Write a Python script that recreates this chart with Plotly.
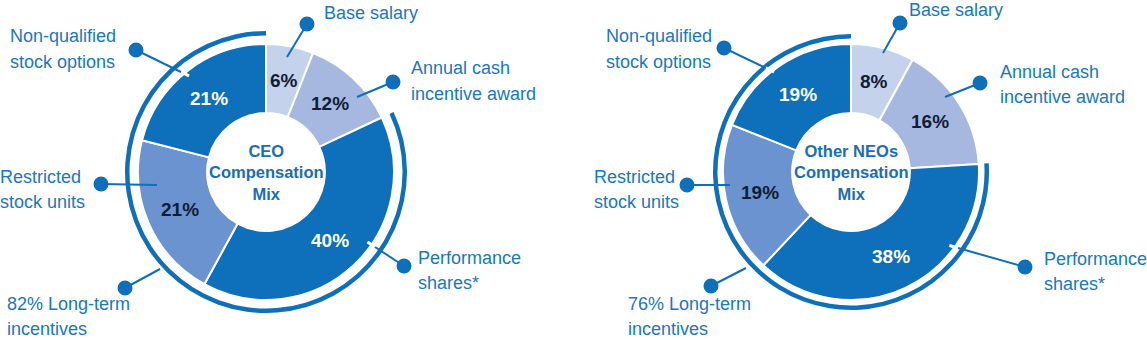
import math
import plotly.graph_objects as go

W, H = 1147, 340

# ---------------- data ----------------
categories = ["Base salary", "Annual cash incentive award", "Performance shares*",
              "Restricted stock units", "Non-qualified stock options"]
ceo_values = [6, 12, 40, 21, 21]
neo_values = [8, 16, 38, 19, 19]
long_term_index = [2, 3, 4]          # which categories form the long-term incentives
ceo_title = "CEO<br>Compensation<br>Mix"
neo_title = "Other NEOs<br>Compensation<br>Mix"
label_texts = ["Base salary", "Annual cash<br>incentive award", "Performance<br>shares*",
               "Restricted<br>stock units", "Non-qualified<br>stock options"]

# ---------------- style ----------------
slice_colors = ["#c5d2ec", "#a6b8e0", "#0e6fbb", "#6a93cf", "#0e6fbb"]
pct_colors = ["#111c38", "#111c38", "#ffffff", "#111c38", "#ffffff"]
BLUE = "#0e6fbb"
LABEL_BLUE = "#1878c3"
TITLE_BLUE = "#1b6db8"
FONT = "Liberation Sans, Arial, sans-serif"
HOLE = 0.46
R = 128
LINE_GAP = 25

charts = [
    dict(values=ceo_values, title=ceo_title, cx=266, cy=172, ring_r=141,
         lti_text=f"{sum(ceo_values[i] for i in long_term_index)}% Long-term<br>incentives",
         # label anchor positions (left x, middle y) in the order of label_texts, plus LTI label
         labels=[(322, 13), (409, 81), (416, 270), (-2, 189), (8, 49)],
         lti_pos=(5, 316),
         # leader lines: (dot x, dot y, end x, end y, white gap)
         leaders=[(307, 24, 287, 57, False), (393, 82, 357, 97, False),
                  (404, 266, 375, 247, True), (101, 184, 157, 185, False),
                  (136, 50, 181, 72, True), (125, 288, 160, 269, False)]),
    dict(values=neo_values, title=neo_title, cx=851, cy=172, ring_r=138,
         lti_text=f"{sum(neo_values[i] for i in long_term_index)}% Long-term<br>incentives",
         labels=[(907, 10), (998, 84), (1042, 271), (592, 189), (604, 49)],
         lti_pos=(626, 316),
         leaders=[(900, 23, 883, 53, False), (980, 83, 945, 97, False),
                  (1025, 267, 958, 248, True), (687, 185, 730, 185, False),
                  (724, 48, 766, 68, True), (711, 286, 746, 268, False)]),
]


def px(x):
    return x / W


def py(y):
    return 1 - y / H


def dom(cx, cy, r):
    return dict(x=[px(cx - r), px(cx + r)], y=[py(cy + r), py(cy - r)])


fig = go.Figure()
annotations = []
shapes = []


def add_label(lx, ly, text):
    lines = text.split("<br>")
    n = len(lines)
    for k, line in enumerate(lines):
        yy = ly + (k - (n - 1) / 2) * LINE_GAP
        annotations.append(dict(
            x=px(lx), y=py(yy), xref="paper", yref="paper", text=line, showarrow=False,
            xanchor="left", yanchor="middle", align="left",
            font=dict(family=FONT, size=18, color=LABEL_BLUE)))


for ch in charts:
    vals = ch["values"]
    cx, cy = ch["cx"], ch["cy"]
    # main donut
    fig.add_trace(go.Pie(
        values=vals, labels=categories, sort=False, direction="clockwise", rotation=0,
        hole=HOLE, domain=dom(cx, cy, R), textinfo="none", showlegend=False,
        marker=dict(colors=slice_colors, line=dict(color="white", width=2)),
        hovertemplate="%{label}: %{value}%<extra></extra>"))
    # outer long-term ring
    short = sum(v for i, v in enumerate(vals) if i not in long_term_index)
    lti = sum(vals[i] for i in long_term_index)
    rr = ch["ring_r"]
    fig.add_trace(go.Pie(
        values=[short, lti], labels=["Short-term", "Long-term"], sort=False,
        direction="clockwise", rotation=0, hole=1 - 4.5 / rr, domain=dom(cx, cy, rr),
        textinfo="none", showlegend=False, hoverinfo="skip",
        marker=dict(colors=["rgba(0,0,0,0)", BLUE], line=dict(width=0))))
    # percentage labels at slice mid-angles
    total = sum(vals)
    cum = 0
    rl = R * (1 + HOLE) / 2
    for i, v in enumerate(vals):
        mid = (cum + v / 2) / total * 2 * math.pi
        cum += v
        annotations.append(dict(
            x=px(cx + rl * math.sin(mid)), y=py(cy - rl * math.cos(mid)),
            xref="paper", yref="paper", text=f"<b>{v}%</b>", showarrow=False,
            xanchor="center", yanchor="middle",
            font=dict(family=FONT, size=19, color=pct_colors[i])))
    # centre title
    annotations.append(dict(
        x=px(cx), y=py(cy), xref="paper", yref="paper", text=f"<b>{ch['title']}</b>",
        showarrow=False, xanchor="center", yanchor="middle", align="center",
        font=dict(family=FONT, size=16.5, color=TITLE_BLUE)))
    # category labels
    for (lx, ly), t in zip(ch["labels"], label_texts):
        add_label(lx, ly, t)
    lx, ly = ch["lti_pos"]
    add_label(lx, ly, ch["lti_text"])
    # leader lines + dots
    for (dx, dy, ex, ey, gap) in ch["leaders"]:
        if gap:
            L = math.hypot(ex - dx, ey - dy)
            ux, uy = (ex - dx) / L, (ey - dy) / L
            shapes.append(dict(type="line", xref="paper", yref="paper",
                               x0=px(ex - ux * 1), y0=py(ey - uy * 1),
                               x1=px(ex + ux * 9), y1=py(ey + uy * 9),
                               line=dict(color="white", width=3), layer="above"))
        shapes.append(dict(type="line", xref="paper", yref="paper",
                           x0=px(dx), y0=py(dy), x1=px(ex), y1=py(ey),
                           line=dict(color=BLUE, width=2), layer="above"))
        rd = 7.5
        shapes.append(dict(type="circle", xref="paper", yref="paper",
                           x0=px(dx - rd), y0=py(dy + rd), x1=px(dx + rd), y1=py(dy - rd),
                           fillcolor=BLUE, line=dict(width=0), layer="above"))

fig.update_layout(
    width=W, height=H, margin=dict(l=0, r=0, t=0, b=0),
    paper_bgcolor="white", plot_bgcolor="white",
    annotations=annotations, shapes=shapes, showlegend=False,
    font=dict(family=FONT),
)

fig.write_html("out.html", config={"displayModeBar": False})
